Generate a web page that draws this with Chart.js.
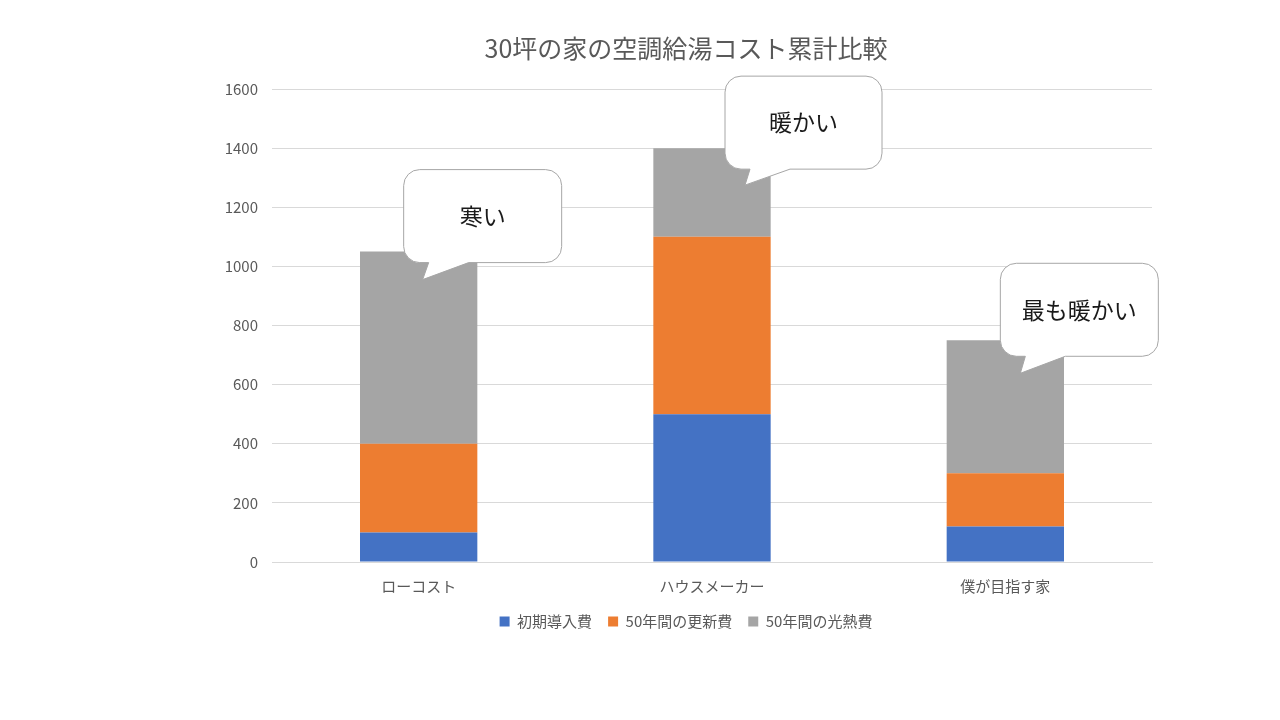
<!DOCTYPE html>
<html>
<head>
<meta charset="utf-8">
<script src="https://cdn.jsdelivr.net/npm/chart.js@4"></script>
<style>
  html, body { margin: 0; padding: 0; background: #fff; }
  #wrap { width: 1280px; height: 720px; }
</style>
</head>
<body>
<div id="wrap"><canvas id="costChart" width="1280" height="720"></canvas></div>
<script>
const categories = ["ローコスト", "ハウスメーカー", "僕が目指す家"];
const initialCost = [100, 500, 120];
const renewalCost = [300, 600, 180];
const energyCost = [650, 300, 450];
const seriesNames = ["初期導入費", "50年間の更新費", "50年間の光熱費"];
const calloutTexts = ["寒い", "暖かい", "最も暖かい"];

const FONT = '"Noto Sans CJK JP", "Noto Sans", sans-serif';

// bubble placement relative to each bar's top centre (pixels)
const bubbleLayout = [
  { dx: -15, dy: -82, w: 158, h: 93, tipX: 4, tipY: 28, baseL: 10, baseR: 50 },
  { dx: 13, dy: -72, w: 157, h: 93, tipX: 33, tipY: 37, baseL: 10, baseR: 50 },
  { dx: -5, dy: -77, w: 158, h: 93, tipX: 15, tipY: 33, baseL: 10, baseR: 50 },
];

const callouts = {
  id: "callouts",
  afterDatasetsDraw(chart) {
    const { ctx, scales } = chart;
    calloutTexts.forEach((text, i) => {
      const total = initialCost[i] + renewalCost[i] + energyCost[i];
      const xc = scales.x.getPixelForValue(i);
      const yTop = scales.y.getPixelForValue(total);
      const b = bubbleLayout[i];
      const x0 = xc + b.dx, y0 = yTop + b.dy, w = b.w, h = b.h, r = 16;
      const y1 = y0 + h;
      ctx.save();
      ctx.beginPath();
      ctx.moveTo(x0 + r, y0);
      ctx.lineTo(x0 + w - r, y0);
      ctx.arcTo(x0 + w, y0, x0 + w, y0 + r, r);
      ctx.lineTo(x0 + w, y1 - r);
      ctx.arcTo(x0 + w, y1, x0 + w - r, y1, r);
      ctx.lineTo(x0 + b.baseR + 15, y1);
      ctx.lineTo(xc + b.tipX, yTop + b.tipY);
      ctx.lineTo(x0 + b.baseL + 15, y1);
      ctx.lineTo(x0 + r, y1);
      ctx.arcTo(x0, y1, x0, y1 - r, r);
      ctx.lineTo(x0, y0 + r);
      ctx.arcTo(x0, y0, x0 + r, y0, r);
      ctx.closePath();
      ctx.fillStyle = "#ffffff";
      ctx.fill();
      ctx.lineWidth = 1;
      ctx.strokeStyle = "#a6a6a6";
      ctx.stroke();
      ctx.fillStyle = "#1a1a1a";
      ctx.font = "23px " + FONT;
      ctx.textAlign = "center";
      ctx.textBaseline = "middle";
      ctx.fillText(text, x0 + w / 2, y0 + h / 2);
      ctx.restore();
    });
  },
};

new Chart(document.getElementById("costChart"), {
  type: "bar",
  data: {
    labels: categories,
    datasets: [
      { label: seriesNames[0], data: initialCost, backgroundColor: "#4472c4" },
      { label: seriesNames[1], data: renewalCost, backgroundColor: "#ed7d31" },
      { label: seriesNames[2], data: energyCost, backgroundColor: "#a5a5a5" },
    ],
  },
  plugins: [callouts],
  options: {
    responsive: false,
    animation: false,
    devicePixelRatio: 1,
    categoryPercentage: 1,
    barPercentage: 0.4,
    layout: { padding: { left: 220, right: 128, top: 20, bottom: 81 } },
    plugins: {
      title: {
        display: true,
        text: "30坪の家の空調給湯コスト累計比較",
        color: "#595959",
        font: { family: FONT, size: 25, weight: "normal" },
        padding: { top: 13, bottom: 26 },
      },
      legend: {
        position: "bottom",
        labels: {
          color: "#595959",
          font: { family: FONT, size: 15 },
          boxWidth: 10,
          boxHeight: 10,
          padding: 16,
        },
      },
      tooltip: { enabled: false },
    },
    scales: {
      x: {
        stacked: true,
        grid: { display: false, drawTicks: false },
        border: { display: true, color: "#d9d9d9" },
        ticks: { color: "#595959", font: { family: FONT, size: 15 }, padding: 15 },
        afterFit(scale) { scale.height = 36; },
      },
      y: {
        stacked: true,
        min: 0,
        max: 1600,
        ticks: {
          stepSize: 200,
          color: "#595959",
          font: { family: FONT, size: 15 },
          padding: 14,
          callback: (v) => String(v),
        },
        grid: { color: "#d9d9d9", drawTicks: false },
        border: { display: false },
        afterFit(scale) { scale.width = 52; },
      },
    },
  },
});
</script>
</body>
</html>
